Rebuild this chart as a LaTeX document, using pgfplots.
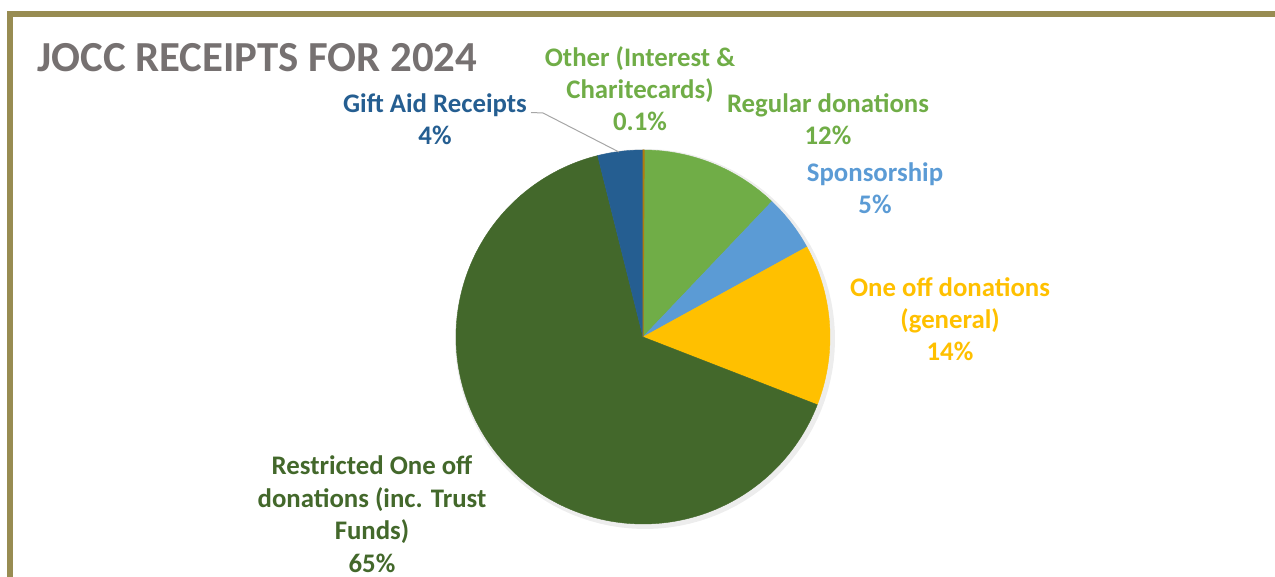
\documentclass[border=0pt]{standalone}
\usepackage{pgfplots}
\pgfplotsset{compat=1.18}
\usepackage{fontspec}
\setmainfont{Carlito}
\definecolor{cTitle}{HTML}{767171}
\definecolor{cFrame}{HTML}{988C52}
\definecolor{cOther}{HTML}{B07B10}
\definecolor{cRegular}{HTML}{70AD47}
\definecolor{cSponsor}{HTML}{5B9BD5}
\definecolor{cOneOff}{HTML}{FFC000}
\definecolor{cRestricted}{HTML}{43682B}
\definecolor{cGift}{HTML}{255E91}
% shares of receipts (percent), clockwise from 12 o'clock
\def\vOther{0.1}
\def\vRegular{12.0}
\def\vSponsor{4.9}
\def\vOneOff{13.9}
\def\vRestricted{65.2}
\def\vGift{3.9}
\pgfmathsetmacro\aA{0}
\pgfmathsetmacro\aB{\aA+3.6*\vOther}
\pgfmathsetmacro\aC{\aB+3.6*\vRegular}
\pgfmathsetmacro\aD{\aC+3.6*\vSponsor}
\pgfmathsetmacro\aE{\aD+3.6*\vOneOff}
\pgfmathsetmacro\aF{\aE+3.6*\vRestricted}
\pgfmathsetmacro\aG{\aF+3.6*\vGift}
\def\cx{643}\def\cy{337}\def\R{187}
\begin{document}
\begin{tikzpicture}
\begin{axis}[
  scale only axis, width=637.5pt, height=288.5pt,
  xmin=0, xmax=1275, ymin=0, ymax=577, y dir=reverse,
  hide axis, clip=true,
]
% frame
\draw[cFrame, line width=3pt, line join=miter, line cap=butt] (axis cs:10,577) -- (axis cs:10,14) -- (axis cs:1275,14);
% soft shadow
\addplot[fill=black!7, draw=none, domain=0:360, samples=120] ({\cx+2+(\R+3)*sin(x)}, {\cy+2-(\R+3)*cos(x)}) -- cycle;
% slices
\addplot[fill=cRegular, draw=cRegular, line width=0.2pt, domain=\aB:\aC, samples=40] ({\cx+\R*sin(x)}, {\cy-\R*cos(x)}) -- (axis cs:\cx,\cy) -- cycle;
\addplot[fill=cSponsor, draw=cSponsor, line width=0.2pt, domain=\aC:\aD, samples=20] ({\cx+\R*sin(x)}, {\cy-\R*cos(x)}) -- (axis cs:\cx,\cy) -- cycle;
\addplot[fill=cOneOff, draw=cOneOff, line width=0.2pt, domain=\aD:\aE, samples=40] ({\cx+\R*sin(x)}, {\cy-\R*cos(x)}) -- (axis cs:\cx,\cy) -- cycle;
\addplot[fill=cRestricted, draw=cRestricted, line width=0.2pt, domain=\aE:\aF, samples=150] ({\cx+\R*sin(x)}, {\cy-\R*cos(x)}) -- (axis cs:\cx,\cy) -- cycle;
\addplot[fill=cGift, draw=cGift, line width=0.2pt, domain=\aF:\aG, samples=15] ({\cx+\R*sin(x)}, {\cy-\R*cos(x)}) -- (axis cs:\cx,\cy) -- cycle;
\addplot[fill=cOther, draw=cOther, line width=0.5pt, domain=\aA:\aB, samples=3] ({\cx+\R*sin(x)}, {\cy-\R*cos(x)}) -- (axis cs:\cx,\cy) -- cycle;
% leader line
\draw[black!35, line width=0.5pt] (axis cs:531,112.5) -- (axis cs:543,113) -- (axis cs:619,152);
% labels (anchor at the baseline of the last line)
\node[inner sep=0pt, anchor=base west, text=cTitle, font=\fontsize{21.4}{24}\selectfont\bfseries] at (axis cs:37,72) {JOCC RECEIPTS FOR 2024};
\tikzset{lab/.style={inner sep=0pt, anchor=base, align=center, font=\fontsize{13.4}{16.2}\selectfont\bfseries}}
\node[lab, text=cGift] at (axis cs:435,145) {Gift Aid Receipts\\4\%};
\node[lab, text=cRegular] at (axis cs:640,131) {Other (Interest \&\\Charitecards)\\0.1\%};
\node[lab, text=cRegular] at (axis cs:828,145) {Regular donations\\12\%};
\node[lab, text=cSponsor] at (axis cs:875,214) {Sponsorship\\5\%};
\node[lab, text=cOneOff] at (axis cs:950,361) {One off donations\\(general)\\14\%};
\node[lab, text=cRestricted] at (axis cs:372,572) {Restricted One off\\donations (inc. Trust\\Funds)\\65\%};
\end{axis}
\pgfresetboundingbox
\path[use as bounding box] (current axis.south west) rectangle (current axis.north east);
\end{tikzpicture}
\end{document}
